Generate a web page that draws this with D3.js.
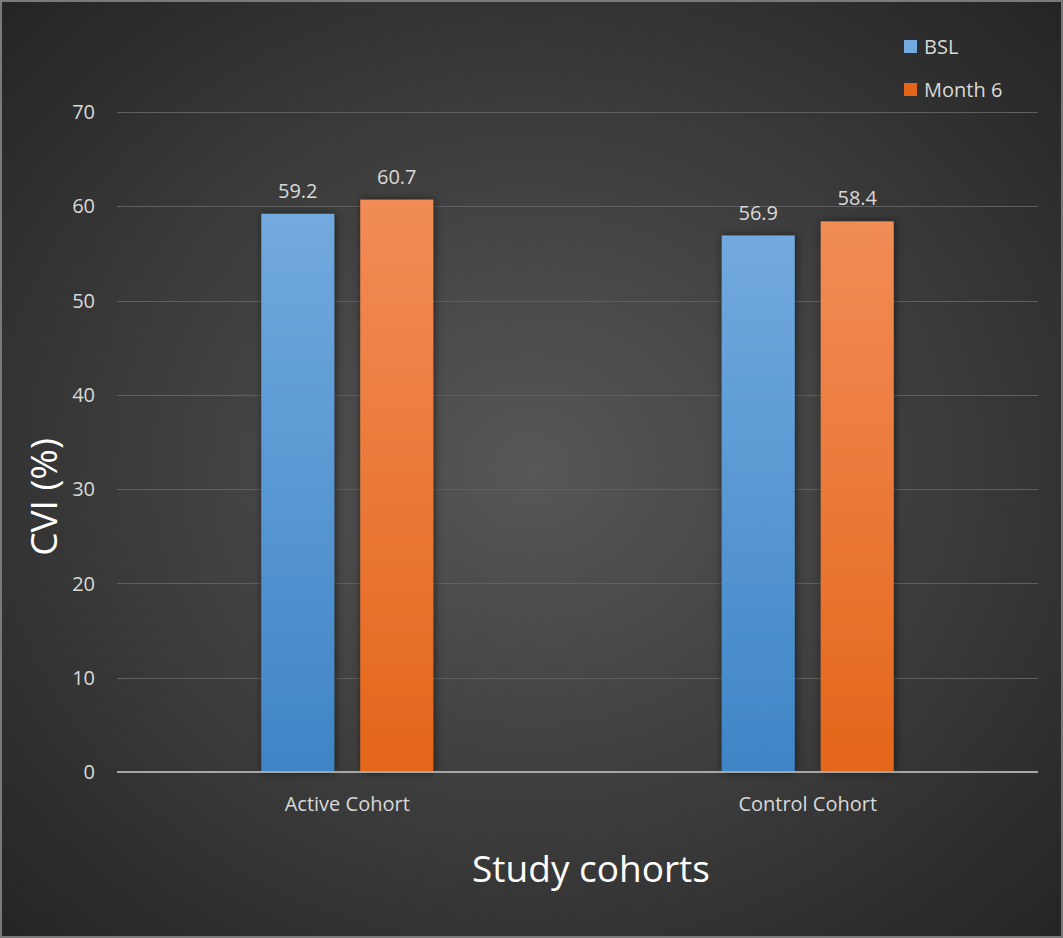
<!DOCTYPE html>
<html>
<head>
<meta charset="utf-8">
<script src="https://cdn.jsdelivr.net/npm/d3@7"></script>
<style>
  html, body { margin: 0; padding: 0; background: #2a2a2a; }
  svg { display: block; }
  text { font-family: "Open Sans", "Liberation Sans", sans-serif; }
</style>
</head>
<body>
<svg id="chart" width="1063" height="938"></svg>
<script>
// CVI (%) at baseline and month 6 for each study cohort
const cohorts = ["Active Cohort", "Control Cohort"];
const seriesNames = ["BSL", "Month 6"];
const bslValues = [59.2, 56.9];
const month6Values = [60.7, 58.4];
const yTicks = [0, 10, 20, 30, 40, 50, 60, 70];

const seriesValues = [bslValues, month6Values];
const rows = cohorts.map((c, i) => ({
  cohort: c,
  values: seriesNames.map((s, j) => ({ series: s, value: seriesValues[j][i] }))
}));

const W = 1063, H = 938;
const margin = { left: 117, right: 25, top: 112, bottom: 166 };
const labelSize = 20;
const svg = d3.select("#chart");
const defs = svg.append("defs");

// Background: soft radial gradient from mid grey to near black
const bg = defs.append("radialGradient").attr("id", "bgGrad")
  .attr("cx", "50%").attr("cy", "50%").attr("r", "72%");
bg.append("stop").attr("offset", "0%").attr("stop-color", "#575757");
bg.append("stop").attr("offset", "100%").attr("stop-color", "#232323");

const fills = {
  "BSL": ["#72a9de", "#3e85c6"],
  "Month 6": ["#f18c56", "#e4661a"]
};
Object.entries(fills).forEach(([k, [top, bot]], i) => {
  const g = defs.append("linearGradient").attr("id", "barGrad" + i)
    .attr("x1", 0).attr("y1", 0).attr("x2", 0).attr("y2", 1);
  g.append("stop").attr("offset", "0%").attr("stop-color", top);
  g.append("stop").attr("offset", "100%").attr("stop-color", bot);
});

const shadow = defs.append("filter").attr("id", "barShadow")
  .attr("x", "-30%").attr("y", "-10%").attr("width", "160%").attr("height", "120%");
shadow.append("feDropShadow").attr("dx", 1).attr("dy", 0)
  .attr("stdDeviation", 4).attr("flood-color", "#000").attr("flood-opacity", 0.55);

svg.append("rect").attr("x", 0).attr("y", 0).attr("width", W).attr("height", H)
  .attr("fill", "url(#bgGrad)");
svg.append("rect").attr("x", 1).attr("y", 1).attr("width", W - 2).attr("height", H - 2)
  .attr("fill", "none").attr("stroke", "#7a7a7a").attr("stroke-width", 2);

const x0 = d3.scaleBand().domain(cohorts)
  .range([margin.left, W - margin.right])
  .paddingInner(0.6265).paddingOuter(0.3133);
const x1 = d3.scaleBand().domain(seriesNames)
  .range([0, x0.bandwidth()]).paddingInner(0.2626).paddingOuter(0);
const y = d3.scaleLinear().domain([0, 70]).range([H - margin.bottom, margin.top]);

// Horizontal gridlines
svg.append("g").selectAll("line").data(yTicks.filter(t => t > 0)).join("line")
  .attr("x1", margin.left).attr("x2", W - margin.right)
  .attr("y1", d => Math.round(y(d)) + 0.5).attr("y2", d => Math.round(y(d)) + 0.5)
  .attr("stroke", "#606060").attr("stroke-width", 1);

// Y tick labels
svg.append("g").selectAll("text").data(yTicks).join("text")
  .attr("x", 95).attr("y", d => y(d)).attr("dy", "0.36em")
  .attr("text-anchor", "end").attr("font-size", labelSize).attr("fill", "#d9d9d9")
  .text(d => d);

// Bars
const groups = svg.append("g").selectAll("g").data(rows).join("g")
  .attr("transform", d => `translate(${x0(d.cohort)},0)`);
groups.selectAll("rect").data(d => d.values).join("rect")
  .attr("x", d => x1(d.series)).attr("width", x1.bandwidth())
  .attr("y", d => y(d.value)).attr("height", d => y(0) - y(d.value))
  .attr("fill", d => `url(#barGrad${seriesNames.indexOf(d.series)})`)
  .attr("filter", "url(#barShadow)");

// Value labels above bars
groups.selectAll("text").data(d => d.values).join("text")
  .attr("x", d => x1(d.series) + x1.bandwidth() / 2)
  .attr("y", d => y(d.value) - 16)
  .attr("text-anchor", "middle").attr("font-size", labelSize).attr("fill", "#d9d9d9")
  .text(d => d.value.toFixed(1));

// X axis baseline
svg.append("line")
  .attr("x1", margin.left).attr("x2", W - margin.right)
  .attr("y1", y(0)).attr("y2", y(0))
  .attr("stroke", "#a6a6a6").attr("stroke-width", 2);

// Category labels
svg.append("g").selectAll("text").data(cohorts).join("text")
  .attr("x", d => x0(d) + x0.bandwidth() / 2).attr("y", 811)
  .attr("text-anchor", "middle").attr("font-size", labelSize).attr("fill", "#d9d9d9")
  .text(d => d);

// Axis titles
svg.append("text").attr("x", 591).attr("y", 882)
  .attr("text-anchor", "middle").attr("font-size", 37).attr("fill", "#ffffff")
  .text("Study cohorts");
svg.append("text")
  .attr("transform", "translate(57,497) rotate(-90)")
  .attr("text-anchor", "middle").attr("font-size", 37).attr("fill", "#ffffff")
  .text("CVI (%)");

// Legend
const legend = svg.append("g").selectAll("g").data(seriesNames).join("g")
  .attr("transform", (d, i) => `translate(904,${40 + i * 43})`);
legend.append("rect").attr("width", 13).attr("height", 13)
  .attr("fill", (d, i) => fills[d][i === 0 ? 0 : 1] );
legend.append("text").attr("x", 20).attr("y", 13.5)
  .attr("font-size", labelSize).attr("fill", "#d9d9d9").text(d => d);
</script>
</body>
</html>
